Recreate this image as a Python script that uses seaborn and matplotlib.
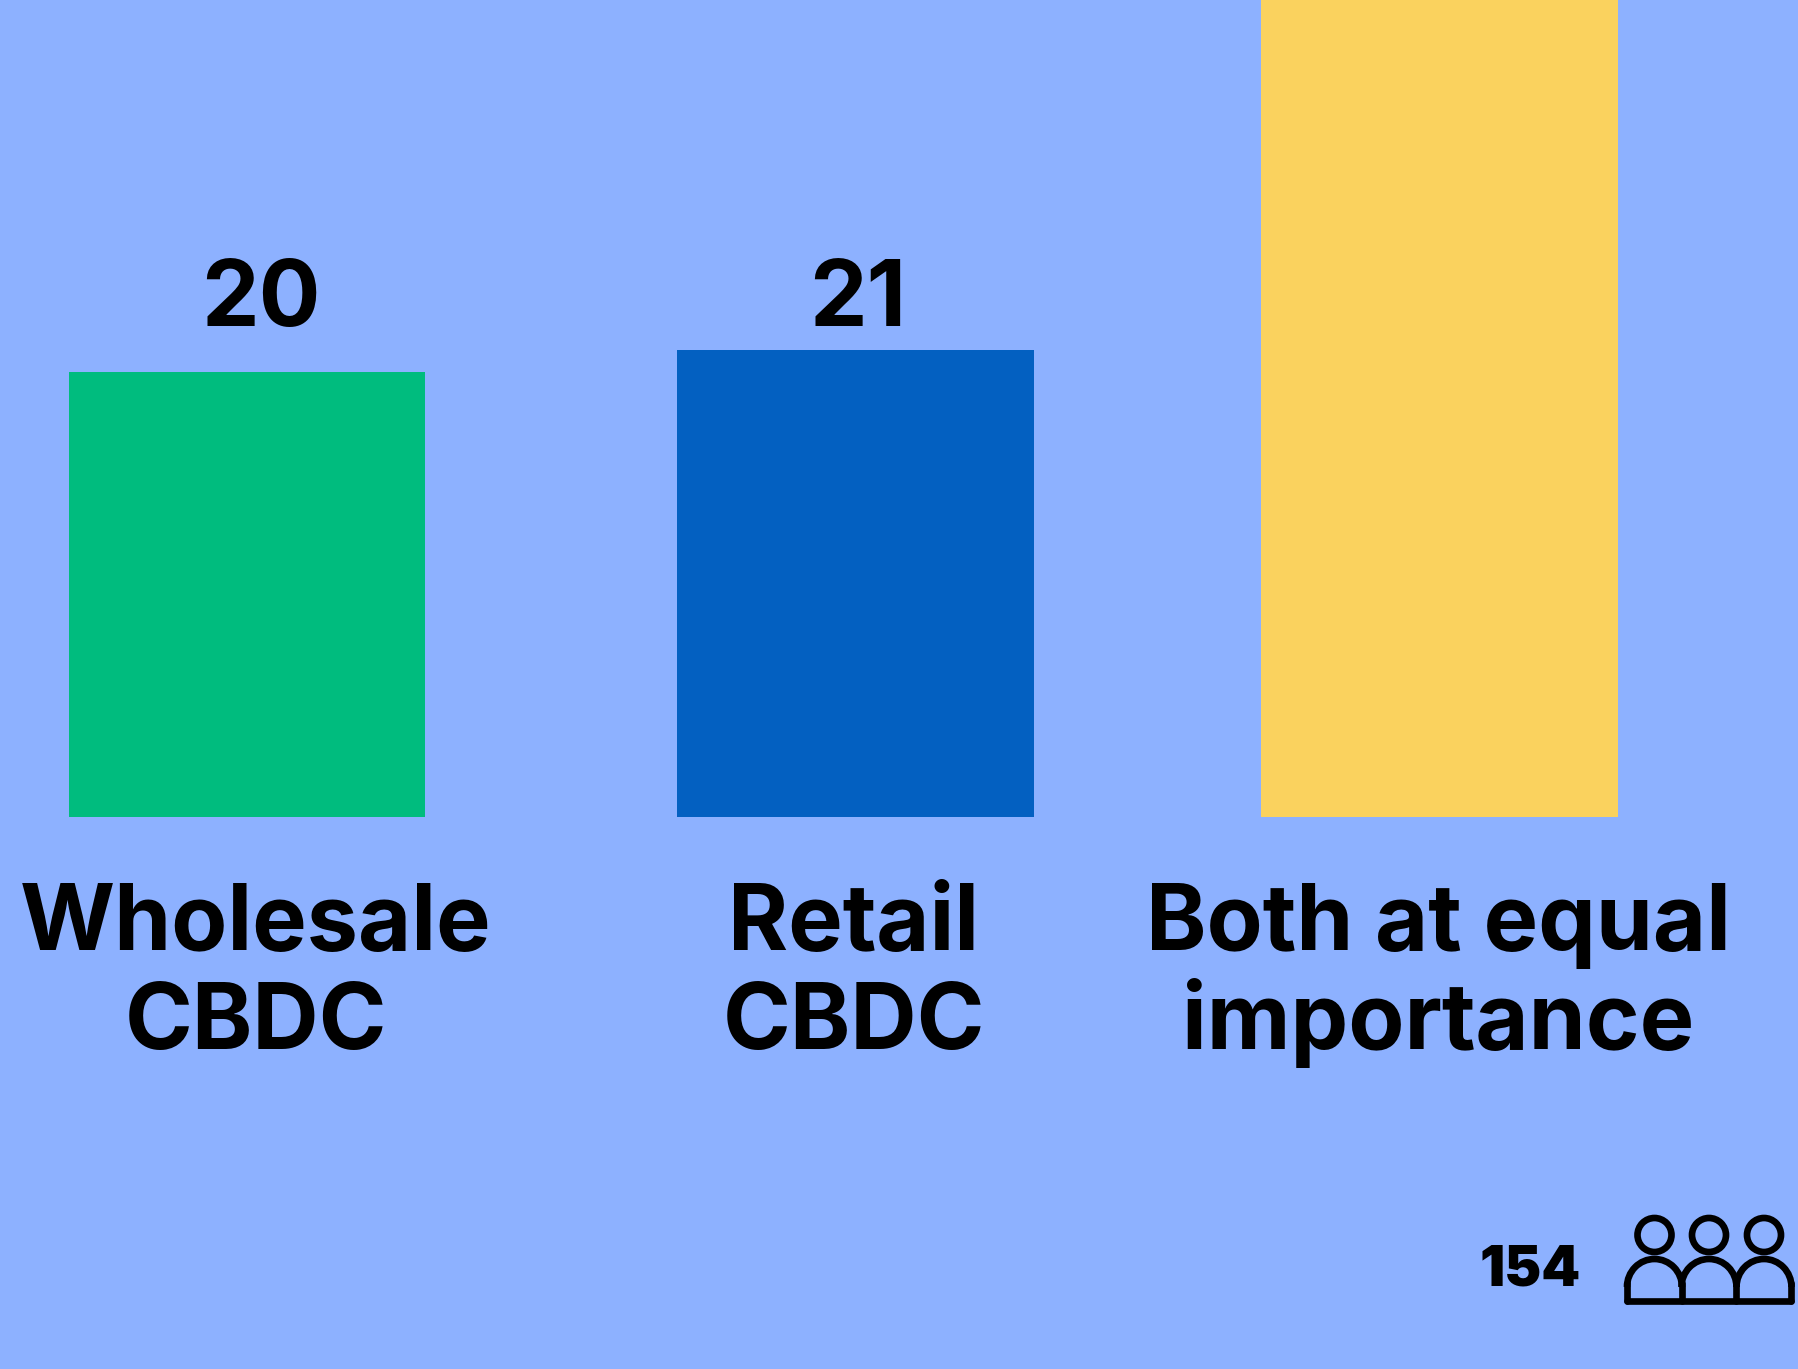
import matplotlib
matplotlib.use("Agg")
import matplotlib.pyplot as plt
from matplotlib.patches import Arc, Circle
import seaborn as sns

# Data
categories = ['Wholesale CBDC', 'Retail CBDC', 'Both at equal importance']
values = [20, 21, 113]
shown_values = ['20', '21']
total_respondents = 154
label_lines = [['Wholesale', 'CBDC'], ['Retail', 'CBDC'], ['Both at equal', 'importance']]
bar_colors = ['#00BC7E', '#0360C1', '#FAD25E']

# Layout, in pixels of the 1799x1369 picture
WIDTH, HEIGHT = 1799, 1369
BASELINE_Y = 817
PX_PER_UNIT = 22.25
bar_centers = [247, 856, 1440]
label_centers = [256, 854, 1438]
value_centers = [261, 858]
BG = '#8DB1FF'

sns.set_theme(style="white")
plt.rcParams['font.family'] = ['Inter', 'DejaVu Sans']

fig = plt.figure(figsize=(WIDTH / 100, HEIGHT / 100), dpi=100, facecolor=BG)

# Bars sit on the lower edge of this axes, the third one runs off the top
ax = fig.add_axes([0, 1 - BASELINE_Y / HEIGHT, 1, BASELINE_Y / HEIGHT], facecolor=BG)
sns.barplot(x=bar_centers, y=values, hue=categories, palette=bar_colors,
            native_scale=True, dodge=False, legend=False, width=357 / 584,
            saturation=1, linewidth=0, ax=ax)
ax.set_xlim(0, WIDTH)
ax.set_ylim(0, BASELINE_Y / PX_PER_UNIT)
ax.axis('off')

# Overlay in pixel coordinates for the texts and the people icon
over = fig.add_axes([0, 0, 1, 1], facecolor='none')
over.set_xlim(0, WIDTH)
over.set_ylim(HEIGHT, 0)
over.axis('off')

for cx, text in zip(value_centers, shown_values):
    over.text(cx, 326, text, ha='center', va='baseline', fontsize=66,
              fontweight='bold', color='black')

for cx, lines in zip(label_centers, label_lines):
    for i, line in enumerate(lines):
        over.text(cx, 950 + i * 99, line, ha='center', va='baseline', fontsize=66,
                  fontweight='bold', color='black')

over.text(1530, 1285, str(total_respondents), ha='center', va='baseline', fontsize=40,
          fontweight='black', color='black')

# People icon
lw = 4.8
for cx in [1654.5, 1709, 1764]:
    over.add_patch(Circle((cx, 1235), 17, fill=False, ec='black', lw=lw))
    over.add_patch(Arc((cx, 1287), 55, 56, theta1=180, theta2=360, ec='black', lw=lw))
for x in [1627, 1682, 1736.5, 1791.5]:
    over.plot([x, x], [1283, 1301], color='black', lw=lw, solid_capstyle='round')
over.plot([1627, 1791.5], [1301, 1301], color='black', lw=lw, solid_capstyle='round')

fig.savefig('out.png', dpi=100, facecolor=BG)
